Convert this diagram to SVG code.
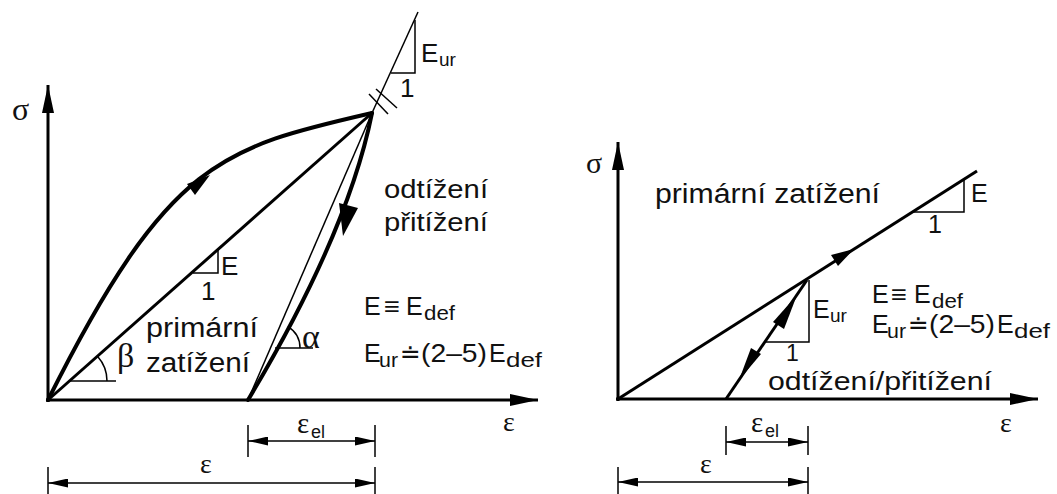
<svg xmlns="http://www.w3.org/2000/svg" width="1057" height="494" viewBox="0 0 1057 494">
<style>
.ax{stroke:#000;stroke-width:3;fill:none}
.thick{stroke:#000;stroke-width:4;fill:none;stroke-linecap:round}
.mid{stroke:#000;stroke-width:3;fill:none}
.thin{stroke:#000;stroke-width:1.5;fill:none}
.dim{stroke:#000;stroke-width:1.5;fill:none}
.ah{fill:#000;stroke:none}
.t{font-family:"Liberation Sans",Arial,sans-serif;fill:#111}
.g{font-family:"Liberation Serif","Times New Roman",serif;fill:#111}
.m{font-family:"Liberation Sans","DejaVu Sans",sans-serif;fill:#111}
</style>
<defs>
<marker id="axa" markerUnits="userSpaceOnUse" viewBox="0 0 28 12" refX="28" refY="6" markerWidth="28" markerHeight="12" orient="auto"><path d="M0,0 L28,6 L0,12 z" fill="#000"/></marker>
<marker id="da" markerUnits="userSpaceOnUse" viewBox="0 0 20 9" refX="20" refY="4.5" markerWidth="20" markerHeight="9" orient="auto-start-reverse"><path d="M0,0 L20,4.5 L0,9 z" fill="#000"/></marker>
</defs>
<rect width="1057" height="494" fill="#fff"/>

<g id="left-axes">
<line class="ax" x1="48" y1="402" x2="48" y2="85" marker-end="url(#axa)"/>
<line class="ax" x1="46" y1="400" x2="538" y2="400" marker-end="url(#axa)"/>
<text class="g" x="12" y="120" font-size="32">σ</text>
<text class="g" x="503" y="431" font-size="28">ε</text>
</g>

<g id="connectors">
<path class="thick" d="M48,400 C168,160 222,147.5 372,113"/>
<polygon class="ah" points="210,175 187,184 195,195"/>
<path class="mid" d="M48,400 L372,113"/>
<path class="thin" stroke-width="2" d="M372,113 L418,12"/>
<path class="thin" d="M248,400 L372,113"/>
<path class="thick" d="M372,113 Q348,233 248,400"/>
<polygon class="ah" points="343,236 339,203 358,208"/>
<path class="mid" d="M618,399 L977,171"/>
<polygon class="ah" points="854,249 831,255 838,266"/>
<path class="mid" d="M726,399 L807,280"/>
<polygon class="ah" points="797,295 773,322 784,329"/>
<polygon class="ah" points="739,380 761,354 751,348"/>
</g>

<g id="left-slope-E">
<polyline class="thin" points="193,273 218,273 218,250"/>
<text class="t" x="221" y="275" font-size="26">E</text>
<text class="t" x="201" y="300" font-size="26">1</text>
</g>

<g id="left-slope-Eur">
<polyline class="thin" points="391,73 415,73 415,20"/>
<line class="thin" stroke-width="2.5" x1="369" y1="94" x2="388" y2="114"/>
<line class="thin" stroke-width="2.5" x1="376" y1="89" x2="397" y2="108"/>
<text class="t" x="421" y="62" font-size="26">E</text>
<text class="t" x="439" y="66" font-size="19">ur</text>
<text class="t" x="400" y="97" font-size="26">1</text>
</g>

<g id="left-beta">
<line class="thin" x1="70" y1="381" x2="116" y2="381"/>
<path class="thin" d="M107,381 A37,37 0 0 0 97.7,356.5"/>
<text class="g" x="117" y="367" font-size="34">β</text>
</g>

<g id="left-alpha">
<line class="thin" x1="275" y1="348" x2="313" y2="348"/>
<path class="thin" d="M300,348 A25,25 0 0 0 287.9,326.6"/>
<text class="g" x="302" y="348" font-size="34">α</text>
</g>

<g id="left-labels">
<text class="t" x="146" y="337" font-size="27" textLength="112" lengthAdjust="spacingAndGlyphs">primární</text>
<text class="t" x="146" y="372" font-size="27" textLength="104" lengthAdjust="spacingAndGlyphs">zatížení</text>
<text class="t" x="384" y="198" font-size="25" textLength="104" lengthAdjust="spacingAndGlyphs">odtížení</text>
<text class="t" x="384" y="231" font-size="25" textLength="104" lengthAdjust="spacingAndGlyphs">přitížení</text>
</g>

<g id="left-formula">
<text class="m" x="364" y="315" font-size="25">E</text>
<text class="m" x="384" y="315" font-size="25" textLength="16" lengthAdjust="spacingAndGlyphs">≡</text>
<text class="m" x="406" y="315" font-size="25">E</text>
<text class="m" x="424" y="320" font-size="21" textLength="31" lengthAdjust="spacingAndGlyphs">def</text>
<text class="m" x="364" y="362" font-size="25">E</text>
<text class="m" x="379" y="367" font-size="20" textLength="19" lengthAdjust="spacingAndGlyphs">ur</text>
<text class="m" x="400" y="362" font-size="25">≐</text>
<text class="m" x="421" y="362" font-size="25" textLength="66" lengthAdjust="spacingAndGlyphs">(2–5)</text>
<text class="m" x="489" y="362" font-size="25">E</text>
<text class="m" x="506" y="367" font-size="21" textLength="36" lengthAdjust="spacingAndGlyphs">def</text>
</g>

<g id="left-dims">
<line class="dim" x1="248" y1="425" x2="248" y2="457"/>
<line class="dim" x1="375" y1="425" x2="375" y2="457"/>
<line class="dim" x1="248" y1="441" x2="375" y2="441" marker-start="url(#da)" marker-end="url(#da)"/>
<text class="g" x="297" y="433" font-size="29">ε</text>
<text class="t" x="311" y="438" font-size="18">el</text>
<line class="dim" x1="48" y1="467" x2="48" y2="494"/>
<line class="dim" x1="375" y1="467" x2="375" y2="494"/>
<line class="dim" x1="48" y1="483" x2="375" y2="483" marker-start="url(#da)" marker-end="url(#da)"/>
<text class="g" x="200" y="473" font-size="28">ε</text>
</g>

<g id="right-axes">
<line class="ax" x1="618" y1="401" x2="618" y2="142" marker-end="url(#axa)"/>
<line class="ax" x1="616" y1="399" x2="1038" y2="399" marker-end="url(#axa)"/>
<text class="g" x="586" y="173" font-size="30">σ</text>
<text class="g" x="1000" y="432" font-size="28">ε</text>
</g>

<g id="right-slope-E">
<polyline class="thin" points="912,212 964,212 964,180"/>
<text class="t" x="971" y="202" font-size="25">E</text>
<text class="t" x="928" y="233" font-size="25">1</text>
</g>

<g id="right-slope-Eur">
<polyline class="thin" points="765,342 809,342 809,280"/>
<text class="t" x="813" y="318" font-size="25">E</text>
<text class="t" x="830" y="322" font-size="19">ur</text>
<text class="t" x="786" y="361" font-size="23">1</text>
</g>

<g id="right-labels">
<text class="t" x="768" y="390" font-size="26" textLength="224" lengthAdjust="spacingAndGlyphs">odtížení/přitížení</text>
<text class="t" x="655" y="203" font-size="27" textLength="225" lengthAdjust="spacingAndGlyphs">primární zatížení</text>
</g>

<g id="right-formula">
<text class="m" x="872" y="303" font-size="25">E</text>
<text class="m" x="891" y="303" font-size="25" textLength="16" lengthAdjust="spacingAndGlyphs">≡</text>
<text class="m" x="914" y="303" font-size="25">E</text>
<text class="m" x="932" y="308" font-size="21" textLength="31" lengthAdjust="spacingAndGlyphs">def</text>
<text class="m" x="872" y="333" font-size="25">E</text>
<text class="m" x="887" y="338" font-size="20" textLength="19" lengthAdjust="spacingAndGlyphs">ur</text>
<text class="m" x="908" y="333" font-size="25">≐</text>
<text class="m" x="929" y="333" font-size="25" textLength="66" lengthAdjust="spacingAndGlyphs">(2–5)</text>
<text class="m" x="997" y="333" font-size="25">E</text>
<text class="m" x="1014" y="338" font-size="21" textLength="36" lengthAdjust="spacingAndGlyphs">def</text>
</g>

<g id="right-dims">
<line class="dim" x1="726" y1="426" x2="726" y2="455"/>
<line class="dim" x1="808" y1="426" x2="808" y2="455"/>
<line class="dim" x1="726" y1="442" x2="808" y2="442" marker-start="url(#da)" marker-end="url(#da)"/>
<text class="g" x="751" y="432" font-size="29">ε</text>
<text class="t" x="765" y="437" font-size="18">el</text>
<line class="dim" x1="618" y1="467" x2="618" y2="494"/>
<line class="dim" x1="808" y1="467" x2="808" y2="494"/>
<line class="dim" x1="618" y1="482" x2="808" y2="482" marker-start="url(#da)" marker-end="url(#da)"/>
<text class="g" x="700" y="473" font-size="28">ε</text>
</g>
</svg>
